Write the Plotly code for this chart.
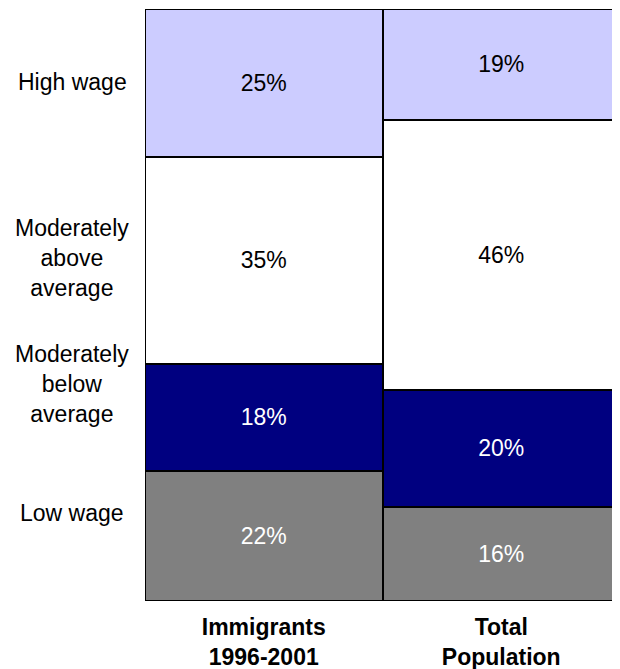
import plotly.graph_objects as go

groups = ["Immigrants<br>1996-2001", "Total<br>Population"]
segments = ["Low wage", "Moderately below average", "Moderately above average", "High wage"]
seg_labels = ["Low wage", "Moderately<br>below<br>average", "Moderately<br>above<br>average", "High wage"]
immigrants = [22, 18, 35, 25]
total_pop = [16, 20, 46, 19]
label_y = [14.9, 36.7, 57.9, 87.6]

colors = ["#808080", "#000080", "#FFFFFF", "#CCCCFF"]
text_colors = ["white", "white", "black", "black"]
FONT = "Liberation Sans, Arial, sans-serif"

fig = go.Figure()
for i, seg in enumerate(segments):
    vals = [immigrants[i], total_pop[i]]
    fig.add_trace(go.Bar(
        x=groups, y=vals, name=seg,
        marker=dict(color=colors[i], line=dict(color="black", width=2.5)),
        text=[f"{v}%" for v in vals],
        textposition="inside", insidetextanchor="middle", textangle=0,
        textfont=dict(family=FONT, size=23, color=text_colors[i]),
        hoverinfo="skip",
    ))

for lab, yv in zip(seg_labels, label_y):
    fig.add_annotation(x=-0.5, xref="x", y=yv, yref="y", text=lab, showarrow=False,
                       xanchor="center", xshift=-73, align="center",
                       font=dict(family=FONT, size=23, color="black"))

fig.update_layout(
    width=612, height=661,
    barmode="stack", barnorm="percent", bargap=0,
    showlegend=False,
    plot_bgcolor="white", paper_bgcolor="white",
    margin=dict(l=137, r=0, t=1, b=68, autoexpand=False),
    font=dict(family=FONT, size=23, color="black"),
    xaxis=dict(range=[-0.5, 1.5], showgrid=False, zeroline=False, showline=False,
               ticklabelstandoff=10, automargin=False,
               tickfont=dict(family=FONT, size=23, color="black", weight="bold")),
    yaxis=dict(range=[0, 100], visible=False, automargin=False),
    uniformtext=dict(minsize=23, mode="show"),
)

fig.write_html("out.html")
